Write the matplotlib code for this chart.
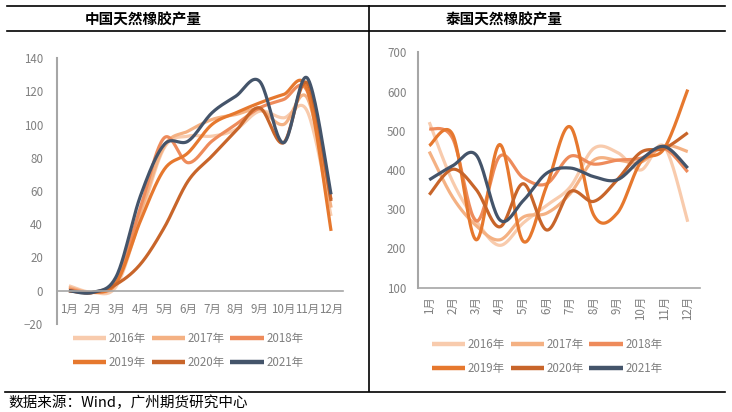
import numpy as np
import matplotlib
matplotlib.use('Agg')
import matplotlib.pyplot as plt
from matplotlib.lines import Line2D

plt.rcParams['font.family'] = ['Noto Sans CJK SC', 'DejaVu Sans']

# 数据
meses = [f'{i}月' for i in range(1, 13)]
anos = ['2016年', '2017年', '2018年', '2019年', '2020年', '2021年']
cores = ['#F8CBAD', '#F4B183', '#EE8B5B', '#E6782E', '#C8652A', '#44546A']

china_2016 = [3, -1, 3, 44, 86, 93, 93, 97, 108, 104, 108, 45]
china_2017 = [2, -1, 5, 47, 87, 96, 103, 106, 109, 100, 116, 50]
china_2018 = [1, -1, 6, 50, 92, 77, 90, 100, 110, 115, 120, 55]
china_2019 = [0, -1, 5, 42, 73, 83, 100, 107, 113, 118, 121, 36]
china_2020 = [0, -1, 4, 16, 38, 66, 81, 96, 110, 89, 125, 54]
china_2021 = [0, -1, 9, 57, 88, 90, 107, 117, 126, 89, 128, 58]

tai_2016 = [522, 370, 270, 208, 265, 310, 357, 455, 445, 400, 460, 268]
tai_2017 = [447, 330, 258, 222, 280, 290, 340, 425, 425, 420, 462, 447]
tai_2018 = [505, 480, 270, 435, 380, 365, 435, 415, 425, 430, 455, 395]
tai_2019 = [462, 490, 222, 465, 218, 360, 510, 285, 290, 420, 455, 605]
tai_2020 = [337, 402, 350, 255, 365, 247, 345, 320, 375, 445, 455, 495]
tai_2021 = [375, 411, 438, 273, 322, 392, 405, 383, 375, 426, 460, 405]

china = [china_2016, china_2017, china_2018, china_2019, china_2020, china_2021]
tailandia = [tai_2016, tai_2017, tai_2018, tai_2019, tai_2020, tai_2021]


def suavizar(y, n=24):
    # curva suave estilo Excel (Catmull-Rom / Bezier)
    x = np.arange(1, len(y) + 1, dtype=float)
    p = np.column_stack([x, np.array(y, dtype=float)])
    saida = []
    for i in range(len(p) - 1):
        p0 = p[i - 1] if i > 0 else p[i]
        p1 = p[i]
        p2 = p[i + 1]
        p3 = p[i + 2] if i + 2 < len(p) else p[i + 1]
        c1 = p1 + (p2 - p0) / 6
        c2 = p2 - (p3 - p1) / 6
        t = np.linspace(0, 1, n)[:, None]
        b = (1 - t) ** 3 * p1 + 3 * (1 - t) ** 2 * t * c1 + 3 * (1 - t) * t ** 2 * c2 + t ** 3 * p2
        saida.append(b if i == 0 else b[1:])
    s = np.vstack(saida)
    return s[:, 0], s[:, 1]


cinza = '#808080'
eixo = '#A6A6A6'
ordem = [0, 3, 1, 4, 2, 5]   # legenda preenchida por linhas


def legenda(ax, cx, topo):
    h, l = ax.get_legend_handles_labels()
    leg = ax.legend([h[i] for i in ordem], [l[i] for i in ordem], ncol=3, loc='upper center',
                    bbox_to_anchor=(cx / 732, 1 - topo / 412), bbox_transform=fig.transFigure,
                    frameon=False, fontsize=8.3, labelcolor=cinza, handlelength=2.9,
                    handletextpad=0.2, columnspacing=0.5, labelspacing=0.95, borderpad=0,
                    handleheight=0.7)
    for ln in leg.get_lines():
        ln.set_linewidth(3.2)


def estilo(ax):
    for s in ['top', 'right']:
        ax.spines[s].set_visible(False)
    ax.spines['bottom'].set_color(eixo)
    ax.spines['left'].set_color(eixo)
    ax.spines['bottom'].set_linewidth(1.2)
    ax.spines['left'].set_linewidth(1.5)


fig = plt.figure(figsize=(7.32, 4.12), dpi=100)

# POSIÇÃO 01 - China
ax1 = fig.add_axes([57 / 732, 1 - 324 / 412, 286 / 732, 266 / 412])
for serie, cor, ano in zip(china, cores, anos):
    xs, ys = suavizar(serie)
    ax1.plot(xs, ys, color=cor, lw=2.3, label=ano, solid_capstyle='butt')
ax1.set_xlim(0.5, 12.5)
ax1.set_ylim(-20, 140)
ax1.set_yticks(range(-20, 141, 20))
ax1.set_xticks(range(1, 13))
ax1.set_xticklabels(meses)
estilo(ax1)
ax1.spines['bottom'].set_position(('data', 0))
ax1.tick_params(axis='y', length=0, pad=10, labelsize=8.3, labelcolor=cinza)
ax1.tick_params(axis='x', length=0, pad=9, labelsize=8.3, labelcolor=cinza)
legenda(ax1, 188, 326)

# POSIÇÃO 02 - Tailândia
ax2 = fig.add_axes([417.5 / 732, 1 - 287.7 / 412, 282 / 732, 235.4 / 412])
for serie, cor, ano in zip(tailandia, cores, anos):
    xs, ys = suavizar(serie)
    ax2.plot(xs, ys, color=cor, lw=2.3, label=ano, solid_capstyle='butt')
ax2.set_xlim(0.5, 12.5)
ax2.set_ylim(100, 700)
ax2.set_yticks(range(100, 701, 100))
ax2.set_xticks(range(1, 13))
ax2.set_xticklabels(meses, rotation=90, va='top')
estilo(ax2)
ax2.tick_params(axis='y', length=0, pad=8, labelsize=8.3, labelcolor=cinza)
ax2.tick_params(axis='x', length=0, pad=6, labelsize=8.3, labelcolor=cinza)
legenda(ax2, 547, 332)

# moldura da tabela
def linha(x0, y0, x1, y1):
    fig.add_artist(Line2D([x0 / 732, x1 / 732], [1 - y0 / 412, 1 - y1 / 412],
                          color='black', lw=1.2, transform=fig.transFigure))

linha(7, 6, 725, 6)
linha(7, 31, 725, 31)
linha(368.5, 6, 368.5, 391)
linha(5, 391.5, 725, 391.5)

fig.text(143 / 732, 1 - 19 / 412, '中国天然橡胶产量', ha='center', va='center',
         fontsize=10.5, fontweight='bold')
fig.text(504 / 732, 1 - 19 / 412, '泰国天然橡胶产量', ha='center', va='center',
         fontsize=10.5, fontweight='bold')
fig.text(8 / 732, 1 - 403 / 412, '数据来源：Wind，广州期货研究中心', ha='left', va='center',
         fontsize=10.5)

plt.savefig('out.png', dpi=100)
